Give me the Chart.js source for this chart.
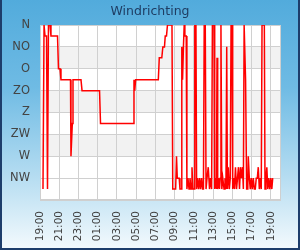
<!DOCTYPE html>
<html>
<head>
<meta charset="utf-8">
<script src="https://cdn.jsdelivr.net/npm/chart.js@4"></script>
<style>
  html, body { margin: 0; padding: 0; }
  #wrap {
    position: relative; width: 300px; height: 250px; box-sizing: border-box;
    background: linear-gradient(to bottom, #52abdc 0%, #6fbbe4 35%, #b4dcf1 70%, #f4fafd 100%);
    box-shadow: inset 2px 0 0 #1d3d6b, inset -2px 0 0 #1d3d6b, inset 0 -2px 0 #1d3d6b;
  }
  canvas { position: absolute; left: 0; top: 0; }
</style>
</head>
<body>
<div id="wrap"><canvas id="c" width="300" height="250"></canvas></div>
<script>
const chartTitle = 'Windrichting';
const dirLabels = ['N', 'NO', 'O', 'ZO', 'Z', 'ZW', 'W', 'NW'];
const startHour = 19;
const tickHours = [0, 2, 4, 6, 8, 10, 12, 14, 16, 18, 20, 22, 24];
// hours after 19:00
const times = [
  0.31,0.42,0.52,0.68,0.78,0.88,1.04,1.14,1.82,1.92,
  2.08,2.18,3.17,3.22,3.36,3.43,4.26,4.37,6.19,6.29,
  9.70,9.77,9.85,9.94,12.30,12.40,12.66,12.77,12.94,13.02,
  13.15,13.25,13.72,13.80,13.97,14.10,14.19,14.27,14.47,14.55,
  14.66,14.74,14.82,14.91,14.99,15.06,15.20,15.27,15.38,15.49,
  15.59,15.70,15.80,15.90,16.01,16.09,16.21,16.28,16.38,16.49,
  16.59,16.69,16.80,16.90,16.99,17.07,17.18,17.26,17.36,17.49,
  17.62,17.72,17.84,17.92,18.09,18.16,18.25,18.34,18.40,18.47,
  18.57,18.66,18.74,18.81,18.90,19.00,19.13,19.23,19.33,19.41,
  19.48,19.57,19.68,19.78,19.86,19.96,20.03,20.12,20.22,20.32,
  20.43,20.53,20.63,20.74,20.84,20.95,21.05,21.14,21.22,21.37,
  21.48,21.60,21.65,21.76,21.86,21.96,22.07,22.17,22.28,22.38,
  22.48,22.59,22.69,22.80,22.90,23.00,23.08,23.32,23.39,23.49,
  23.58,23.68,23.78,23.89,23.99,24.10,24.19
];
// wind direction in degrees
const directions = [
  337.5,0,22.5,22.5,337.5,0,0,22.5,22.5,90,
  90,112.5,112.5,270,202.5,112.5,112.5,135,135,202.5,
  202.5,112.5,135,112.5,112.5,67.5,67.5,45,45,22.5,
  22.5,0,0,337.5,337.5,337.5,270,315,315,337.5,
  337.5,45,112.5,45,0,22.5,22.5,337.5,315,337.5,
  315,337.5,292.5,337.5,337.5,0,0,337.5,315,337.5,
  315,337.5,315,337.5,337.5,0,0,337.5,315,292.5,
  337.5,315,337.5,0,0,337.5,315,337.5,67.5,337.5,
  315,337.5,315,0,337.5,315,337.5,315,337.5,45,
  337.5,292.5,337.5,315,0,0,337.5,315,337.5,292.5,
  337.5,315,292.5,337.5,292.5,315,292.5,337.5,0,112.5,
  337.5,337.5,270,315,337.5,315,337.5,315,337.5,337.5,
  315,315,292.5,337.5,315,337.5,0,0,337.5,315,
  292.5,337.5,315,337.5,315,337.5,315
];
const bandRanges = [[45, 90], [135, 180], [225, 270]];

Chart.defaults.font.family = "'DejaVu Sans', sans-serif";

const bgPlugin = {
  id: 'bands',
  beforeDraw(chart) {
    const { ctx, chartArea: a, scales: { y } } = chart;
    ctx.save();
    ctx.fillStyle = '#ffffff';
    ctx.fillRect(a.left, a.top, a.right - a.left, a.bottom - a.top);
    ctx.fillStyle = '#f2f2f2';
    bandRanges.forEach(([v0, v1]) => {
      const p0 = y.getPixelForValue(v0), p1 = y.getPixelForValue(v1);
      ctx.fillRect(a.left, Math.min(p0, p1), a.right - a.left, Math.abs(p1 - p0));
    });
    ctx.restore();
  },
  beforeDatasetsDraw(chart) {
    const { ctx, chartArea: a } = chart;
    ctx.save();
    ctx.strokeStyle = '#cfcfcf';
    ctx.lineWidth = 1;
    ctx.strokeRect(Math.round(a.left) + 0.5, Math.round(a.top) + 0.5,
      Math.round(a.right - a.left) - 1, Math.round(a.bottom - a.top) - 1);
    ctx.restore();
  }
};

new Chart(document.getElementById('c'), {
  type: 'line',
  data: {
    datasets: [{
      data: times.map((t, i) => ({ x: t, y: directions[i] })),
      borderColor: '#ff0000',
      borderWidth: 1.5,
      pointRadius: 0,
      tension: 0,
      fill: false
    }]
  },
  options: {
    responsive: false,
    animation: false,
    layout: { padding: 0 },
    plugins: {
      legend: { display: false },
      tooltip: { enabled: false },
      title: {
        display: true, text: chartTitle, color: '#1f3d63',
        font: { size: 12.5, weight: 'normal' },
        padding: { top: 4, bottom: 6 }
      }
    },
    scales: {
      x: {
        type: 'linear', min: 0, max: 25,
        afterBuildTicks: s => { s.ticks = tickHours.map(v => ({ value: v })); },
        afterFit: s => { s.height = 50; },
        ticks: {
          stepSize: 2, minRotation: 90, maxRotation: 90, autoSkip: false,
          padding: 11, color: '#404040', font: { size: 10.5 },
          callback: v => String((startHour + v) % 24).padStart(2, '0') + ':00'
        },
        grid: { color: '#d0d0d0', drawTicks: false },
        border: { color: '#cfcfcf' }
      },
      y: {
        reverse: true, min: 0, max: 360,
        afterFit: s => { s.width = 40; },
        ticks: {
          stepSize: 45, padding: 10, color: '#444444', font: { size: 11.5 },
          callback: v => (v < 360 ? dirLabels[v / 45] : '')
        },
        grid: { color: '#d0d0d0', drawTicks: false },
        border: { color: '#cfcfcf' }
      },
      yr: {
        position: 'right', min: 0, max: 1,
        afterFit: s => { s.width = 19.5; },
        ticks: { display: false },
        grid: { display: false, drawTicks: false },
        border: { display: false }
      }
    }
  },
  plugins: [bgPlugin]
});
</script>
</body>
</html>
